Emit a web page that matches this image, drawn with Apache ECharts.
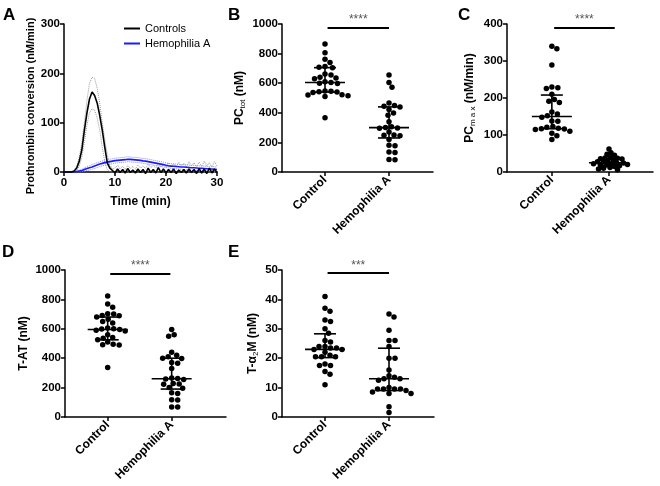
<!DOCTYPE html>
<html><head><meta charset="utf-8">
<script src="https://cdn.jsdelivr.net/npm/echarts@6/dist/echarts.min.js"></script>
<style>html,body{margin:0;padding:0;background:#fff}#c{width:660px;height:486px}</style>
</head><body><div id="c"></div>
<script>
// ---------- DATA ----------
const categories = ['Control', 'Hemophilia A'];

// Panel A: prothrombin conversion time course (nM/min)
const timeMin = [0,0.5,1,1.5,2,2.5,3,3.5,4,4.5,5,5.5,6,6.5,7,7.5,8,8.5,9,9.5,
  10,10.5,11,11.5,12,12.5,13,13.5,14,14.5,15,15.5,16,16.5,17,17.5,18,18.5,19,19.5,
  20,20.5,21,21.5,22,22.5,23,23.5,24,24.5,25,25.5,26,26.5,27,27.5,28,28.5,29,29.5,30];
const controlsMean = [0,0,0,0,2,8,22,45,85,120,148,162,155,140,115,85,50,18,8,3,
  -2,6,-1,5,-2,7,-1,4,-2,6,-1,5,-3,8,-1,5,-2,9,-1,6,
  -2,5,-1,6,-3,4,-1,5,-2,6,-1,5,-3,7,-2,6,-3,8,-2,6,-1];
const controlsUpper = [0,0,0,0,4,12,30,60,100,145,180,192,190,170,140,100,65,35,15,6,
  8,14,6,12,5,13,7,11,6,14,8,12,7,16,9,13,8,18,10,15,
  9,19,11,17,10,20,12,18,9,21,12,19,10,20,11,22,12,19,10,21,12];
const controlsLower = [0,0,0,0,0,3,12,30,60,95,120,128,125,110,85,50,20,5,0,0,
  -3,0,-4,-1,-5,0,-3,-1,-5,0,-4,-2,-6,0,-3,-1,-5,0,-4,-1,
  -5,0,-3,-1,-6,0,-4,-1,-5,0,-3,-1,-6,0,-4,-1,-6,0,-5,-1,-4];
const hemoMean = [0,0,0,0,0.5,1,2,3,5,7,8.5,10,12,14,16,17.5,19,20,21,22,
  23,23.5,24,24.5,25,26,25.5,25,24.5,24,23.5,22.5,22,21,20,19,18,17,16,15,
  13.5,12.5,12,11.5,11,10.5,10,10,9.5,9,8.5,8.5,8,7.5,7.5,7,6.5,6,6,5.5,5];
const hemoUpper = [0,0,0,0,1,2,4,6,8,11,13,15,17,19,21,22.5,24,25,26,27,
  28,28.5,29,29.5,30,31,30.5,30,29.5,29,28.5,27.5,27,26,25,24,23,22,21,20,
  18.5,17.5,17,16.5,16,15.5,15,15,14.5,14,13.5,13.5,13,12.5,12.5,12,11.5,11,11,10.5,10];
const hemoLower = [0,0,0,0,0,0,0,1,2,3,4,5.5,7,9,11,12.5,14,15,16,17,
  18,18.5,19,19.5,20,21,20.5,20,19.5,19,18.5,17.5,17,16,15,14,13,12,11,10,
  9,8,7.5,7,6.5,6,5.5,5,4.5,4,3.5,3.5,3,2.5,2.5,2,1.5,1,1,0.5,0];

// Panel B: PC_tot (nM)
const pcTotControl = [865,806,762,740,712,708,705,662,655,640,635,630,610,605,600,598,548,545,542,540,538,522,520,515,510,366];
const pcTotHemo = [655,605,573,467,450,445,440,422,398,384,339,305,300,298,295,270,250,248,245,220,180,178,135,132,85,82];
const pcTotSummary = [[605,540,705],[300,230,440]];   // median, Q1, Q3

// Panel C: PC_max (nM/min)
const pcMaxControl = [340,333,289,230,228,226,210,196,191,188,162,157,152,148,138,137,123,121,118,117,116,115,110,105,98,88];
const pcMaxHemo = [62,52,48,45,40,38,37,36,35,33,30,28,27,25,24,23,22,20,19,18,17,15,12,10,8,6];
const pcMaxSummary = [[150,117,208],[25,17,35]];

// Panel D: T-AT (nM)
const tatControl = [823,769,747,703,700,690,688,680,665,650,640,605,600,598,595,590,585,560,540,535,525,510,495,492,490,337];
const tatHemo = [595,560,550,440,420,410,400,398,370,365,330,265,262,258,255,228,225,222,200,195,165,160,117,115,68,68];
const tatSummary = [[595,525,680],[260,190,400]];

// Panel E: T-alpha2M (nM)
const ta2mControl = [41,37,36,33,32.5,30,28.5,26,25.5,24,24,23.5,23.5,23,23,22,21,20.5,20.5,20.5,18,17.5,17.5,15.5,14.5,11];
const ta2mHemo = [35,34,29.5,26,26,24,20,20,16,14,13.5,13,13,12.5,10,9.5,9.5,9.5,9.5,9,8.5,8,8,3.5,1.5];
const ta2mSummary = [[23,20.2,28.3],[13,9,23.4]];

// significance bars: label, level, from, to (category units)
const sigLabels = ['****','****','****','***'];
const sigLevels = [978, 389, 977, 48.9];
const sigFrom = [0.04, 0.04, 0.04, 0.04];
const sigTo = [1.0, 1.1, 0.98, 1.0];

// ---------- CHART ----------
const FONT = 'Liberation Sans, Arial, sans-serif';
const chart = echarts.init(document.getElementById('c'), null, {renderer:'canvas'});

const axisLine = {show:true, onZero:false, lineStyle:{color:'#000', width:1.5}};
const axisTick = {show:true, length:4, lineStyle:{color:'#000', width:1.5}};
const tickLbl = {color:'#000', fontSize:11.5, fontWeight:'bold', fontFamily:FONT, margin:4,
  formatter:(v)=>String(v)};
const nameStyle = {color:'#000', fontSize:12, fontWeight:'bold', fontFamily:FONT};

const grids = [
  {left:64, top:24, width:153, height:148},
  {left:282, top:24, width:151, height:148},
  {left:507, top:24, width:146, height:148},
  {left:65, top:270, width:161, height:147},
  {left:282, top:270, width:152, height:147}
];
const xRanges = [[0,30],[-0.672,1.6875],[-0.785,1.77],[-0.667,1.849],[-0.672,1.703]];
const yMax = [300,1000,400,1000,50];
const yInt = [100,200,100,200,10];
const yGaps = [26,35,30,35,22];
const yNames = [
  'Prothrombin conversion (nM/min)',
  '{a|PC}{s|tot}{a| (nM)}',
  '{a|PC}{s|m a x}{a| (nM/min)}',
  'T-AT (nM)',
  '{a|T-α}{s|2}{a|M (nM)}'
];
const rich = {
  a:{fontSize:12, fontWeight:'bold', fontFamily:FONT, color:'#000', padding:[0,0,0,0]},
  s:{fontSize:8, fontWeight:'normal', fontFamily:FONT, color:'#000', padding:[6,0,0,0]}
};

const xAxes = [], yAxes = [];
grids.forEach((g,i)=>{
  if (i===0) {
    xAxes.push({type:'value', gridIndex:0, min:0, max:30, interval:10,
      axisLine, axisTick, axisLabel:Object.assign({}, tickLbl, {margin:5}), splitLine:{show:false},
      name:'Time (min)', nameLocation:'middle', nameGap:24, nameTextStyle:nameStyle});
  } else {
    xAxes.push({type:'value', gridIndex:i, min:xRanges[i][0], max:xRanges[i][1],
      axisLine, splitLine:{show:false},
      axisTick:Object.assign({}, axisTick, {customValues:[0,1]}),
      axisLabel:Object.assign({}, tickLbl, {customValues:[0,1], rotate:45, margin:6, fontSize:12,
        formatter:(v)=>categories[Math.round(v)]})});
  }
  const ns = Object.assign({}, nameStyle, {rich});
  if (i===0) Object.assign(ns, {fontSize:11, padding:[0,16,0,0]});
  yAxes.push({type:'value', gridIndex:i, min:0, max:yMax[i], interval:yInt[i],
    axisLine, axisTick, axisLabel:tickLbl, splitLine:{show:false},
    name:yNames[i], nameLocation:'middle', nameGap:yGaps[i],
    nameTextStyle:ns});
});

function pairs(xs, ys){ return xs.map((x,i)=>[x, ys[i]]); }
function lineS(name, data, color, width, type, z, clip){
  return {type:'line', name, xAxisIndex:0, yAxisIndex:0, data:pairs(timeMin, data),
    showSymbol:false, symbol:'none', color, clip, z,
    lineStyle:{color, width, type}, emphasis:{disabled:true}, silent:true};
}

const series = [
  lineS('ctrlHi', controlsUpper, '#9a9a9a', 1, 'dotted', 1, true),
  lineS('ctrlLo', controlsLower, '#9a9a9a', 1, 'dotted', 1, true),
  lineS('hemoHi', hemoUpper, '#8a8aff', 1, 'dotted', 1, true),
  lineS('hemoLo', hemoLower, '#8a8aff', 1, 'dotted', 1, true),
  lineS('Hemophilia A', hemoMean, '#1a1aff', 1.6, 'solid', 3, false),
  lineS('Controls', controlsMean, '#000000', 1.6, 'solid', 4, false)
];

const dotGroups = [null,[pcTotControl,pcTotHemo],[pcMaxControl,pcMaxHemo],[tatControl,tatHemo],[ta2mControl,ta2mHemo]];
const summaries = [null, pcTotSummary, pcMaxSummary, tatSummary, ta2mSummary];

function barRender(params, api){
  const x = api.value(0);
  const m = api.coord([x, api.value(1)]);
  const lo = api.coord([x, api.value(2)]);
  const hi = api.coord([x, api.value(3)]);
  const st = {stroke:'#000', lineWidth:1.6};
  const L = (x1,y1,x2,y2)=>({type:'line', shape:{x1,y1,x2,y2}, style:st});
  return {type:'group', children:[
    L(m[0]-20, m[1], m[0]+20, m[1]),
    L(m[0], lo[1], m[0], hi[1]),
    L(m[0]-11, lo[1], m[0]+11, lo[1]),
    L(m[0]-11, hi[1], m[0]+11, hi[1])
  ]};
}

for (let i=1;i<5;i++){
  series.push({type:'custom', id:'bars'+i, xAxisIndex:i, yAxisIndex:i, z:5, silent:true,
    renderItem:barRender,
    data: summaries[i].map((s,g)=>[g, s[0], s[1], s[2]])});
  series.push({type:'scatter', id:'dots'+i, xAxisIndex:i, yAxisIndex:i, z:3, silent:true,
    symbol:'circle', symbolSize:5.5, itemStyle:{color:'#000', opacity:1}, data:[],
    markLine:{silent:true, symbol:['none','none'], animation:false,
      lineStyle:{color:'#000', width:2, type:'solid'},
      label:{show:true, position:'insideMiddleTop', formatter:sigLabels[i-1], color:'#555', fontSize:12, fontFamily:FONT, distance:2},
      data:[[{coord:[sigFrom[i-1], sigLevels[i-1]]},{coord:[sigTo[i-1], sigLevels[i-1]]}]]}
  });
}

const letters = [['A',3,7],['B',228,7],['C',458,7],['D',2,244],['E',228,244]];

chart.setOption({
  animation:false,
  backgroundColor:'#fff',
  textStyle:{fontFamily:FONT},
  grid:grids,
  xAxis:xAxes,
  yAxis:yAxes,
  legend:{data:['Controls','Hemophilia A'], orient:'vertical', left:119, top:18,
    itemWidth:16, itemHeight:2, itemGap:4, icon:'rect', selectedMode:false,
    textStyle:{color:'#000', fontSize:11, fontFamily:FONT}},
  graphic: letters.map(l=>({type:'text', left:l[1], top:l[2],
    style:{text:l[0], font:'bold 17px '+FONT, fill:'#000'}})),
  series
});

// beeswarm layout computed in pixel space through the chart's own scales
function swarm(pys, d){
  const idx = pys.map((_,i)=>i).sort((a,b)=>pys[a]-pys[b]);
  const placed = [], off = new Array(pys.length).fill(0);
  for (const i of idx){
    const y = pys[i]; let chosen = 0;
    for (let k=0;k<400;k++){
      const c = k===0 ? 0 : ((k%2)?1:-1)*Math.ceil(k/2)*0.5;
      let ok = true;
      for (const p of placed){ const dx=p[0]-c, dy=p[1]-y; if (dx*dx+dy*dy < d*d){ok=false;break;} }
      if (ok){ chosen=c; break; }
    }
    placed.push([chosen,y]); off[i]=chosen;
  }
  return off;
}

const upd = [];
for (let i=1;i<5;i++){
  const data = [];
  dotGroups[i].forEach((vals,g)=>{
    const cx = chart.convertToPixel({gridIndex:i}, [g, 0])[0];
    const pys = vals.map(v=>chart.convertToPixel({gridIndex:i}, [g, v])[1]);
    const off = swarm(pys, i===2 && g===1 ? 4.2 : 5.6);
    vals.forEach((v,k)=>{
      const xv = chart.convertFromPixel({gridIndex:i}, [cx+off[k], pys[k]])[0];
      data.push([xv, v]);
    });
  });
  upd.push({id:'dots'+i, data});
}
chart.setOption({series:upd});
</script>
</body></html>
